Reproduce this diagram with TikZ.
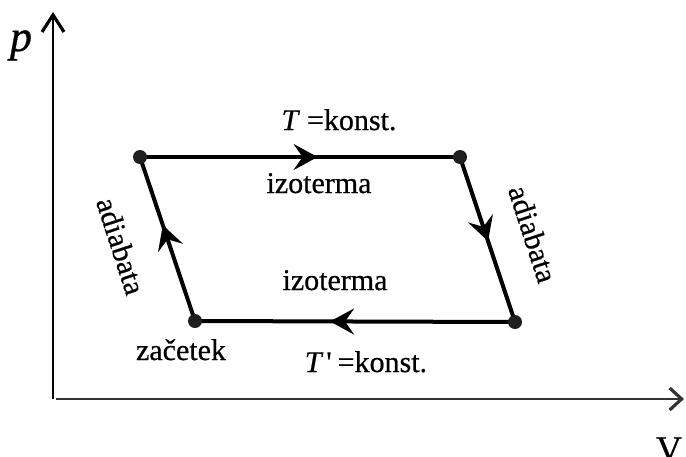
\documentclass[tikz,border=0pt]{standalone}
\usepackage{fontspec}
\setmainfont[FakeBold=0.6,ItalicFeatures={FakeBold=0.6}]{Liberation Serif}
\usetikzlibrary{arrows.meta,decorations.markings}
\begin{document}
\begin{tikzpicture}[x=1pt,y=-1pt,
  axis/.style={line width=1.8pt},
  edge/.style={line width=4pt},
  dot/.style={circle,fill=black!88,inner sep=0pt,minimum size=14pt},
  lbl/.style={font=\fontsize{30}{36}\selectfont,inner sep=0pt,anchor=base},
  midarrow/.style={postaction={decorate},decoration={markings,mark=at position #1 with {\arrow{Stealth[length=24pt,width=26pt,inset=9pt]}}}}
]
\useasboundingbox (0,0) rectangle (686,456);
% axes
\coordinate (yb) at (53,399);
\coordinate (yt) at (53,12);
\coordinate (xb) at (56,399);
\coordinate (xt) at (684,399);
\draw[axis,-{Straight Barb[length=17pt,width=22pt,line width=3.2pt]}] (yb) -- (yt);
\draw[axis,black!80,-{Straight Barb[length=12pt,width=22pt,line width=3.2pt]}] (xb) -- (xt);
\node[font=\fontsize{44}{50}\selectfont\itshape,inner sep=0pt,anchor=base] (p) at (21,51) {p};
\node[font=\fontsize{36}{40}\selectfont,inner sep=0pt,anchor=base] (V) at (669,461) {V};
% cycle
\coordinate (A) at (140,157);
\coordinate (B) at (460,157);
\coordinate (D) at (515,322);
\coordinate (C) at (195,321);
\draw[edge,midarrow=0.555] (A) -- (B);
\draw[edge,midarrow=0.51] (B) -- (D);
\draw[edge,midarrow=0.578] (D) -- (C);
\draw[edge,midarrow=0.585] (C) -- (A);
\node[dot] (dA) at (A) {};
\node[dot] (dB) at (B) {};
\node[dot] (dC) at (C) {};
\node[dot] (dD) at (D) {};
% labels
\node[lbl] (t1) at (339,130) {\textit{T}\hspace{7pt}=konst.};
\node[lbl] (i1) at (319,193) {izoterma};
\node[lbl] (i2) at (335,290) {izoterma};
\node[lbl] (t2) at (366,372) {\textit{T}\hspace{3pt}\textquotesingle\hspace{6pt}=konst.};
\node[lbl] (z) at (181,360) {začetek};
\node[lbl,anchor=center,rotate=-72] (a1) at (121,246) {adiabata};
\node[lbl,anchor=center,rotate=-72] (a2) at (533,234) {adiabata};
\end{tikzpicture}
\end{document}
